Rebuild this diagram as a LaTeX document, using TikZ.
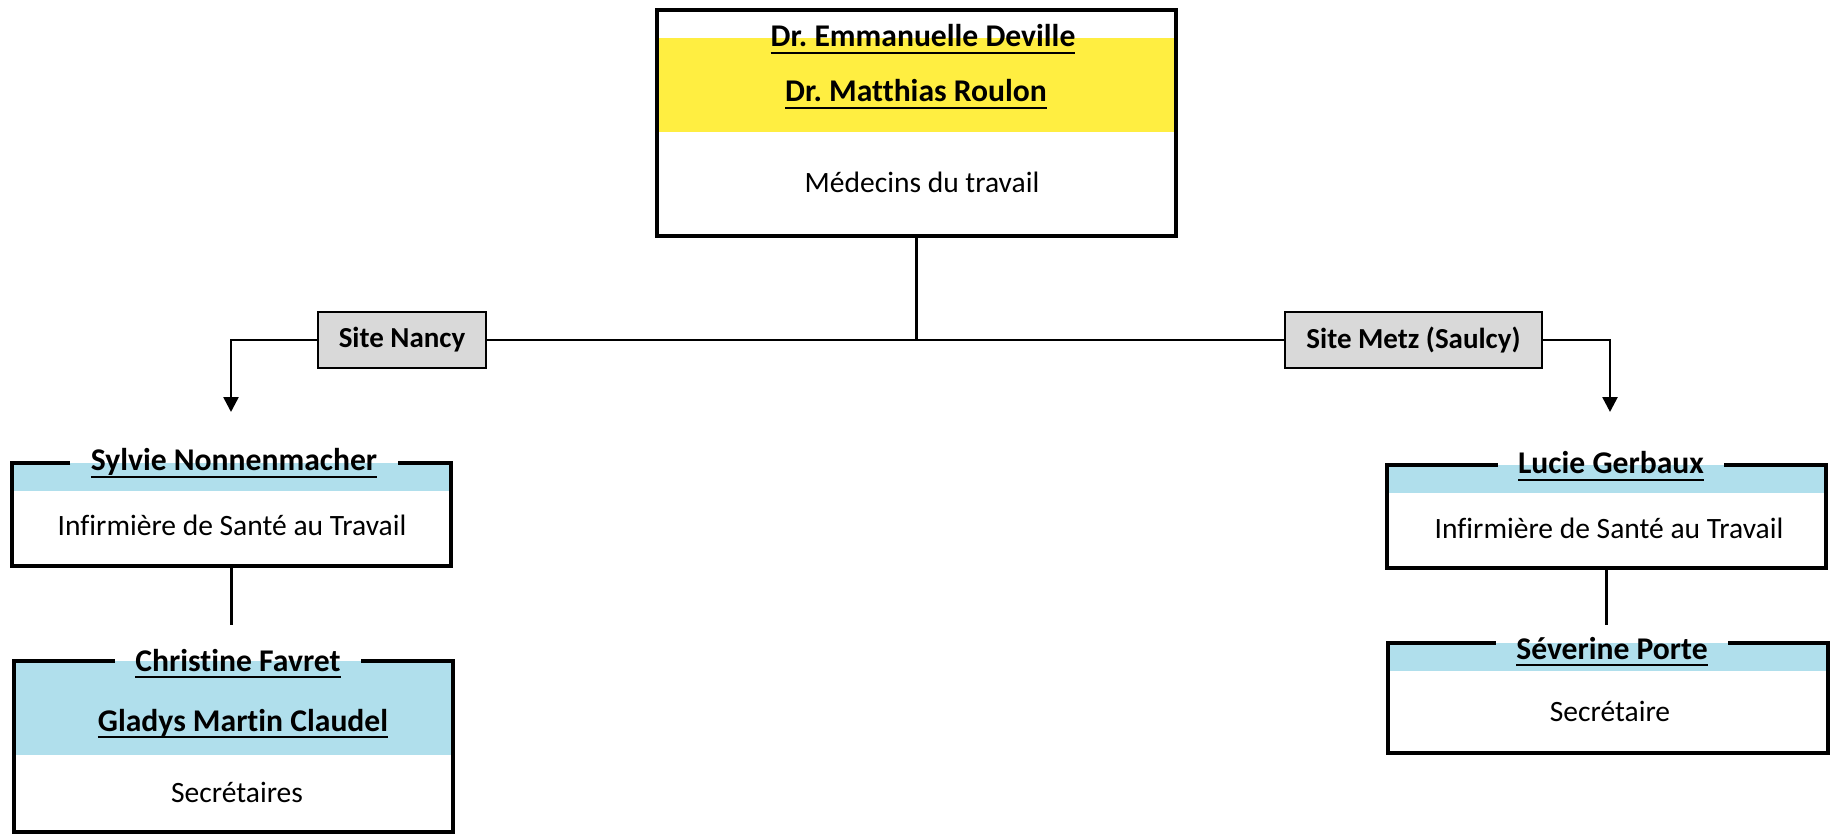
\documentclass[tikz,border=0pt]{standalone}
\usepackage{fontspec}
\setmainfont[Ligatures=NoCommon]{Carlito}
\usetikzlibrary{arrows.meta,calc}
\definecolor{bandyellow}{RGB}{255,238,65}
\definecolor{bandblue}{RGB}{176,223,236}
\definecolor{sitegray}{RGB}{217,217,217}
\newcommand\chartfont{\fontsize{16.8}{20}\selectfont}
\newcommand\namefont{\fontsize{18}{21}\selectfont\bfseries}
\newcommand\nameul[1]{\setbox0\hbox{#1}\rlap{\rule[-4pt]{\wd0}{1.1pt}}\box0}
\frenchspacing
\begin{document}
\begin{tikzpicture}[x=0.02cm,y=-0.02cm,
  box/.style={minimum width=8.78cm,inner sep=0,outer sep=0},
  boxline/.style={line width=2.3pt,line join=miter},
  link/.style={line width=1.5pt},
  arrowdown/.style={-{Triangle[width=0.3cm,length=0.3cm]}},
  site/.style={draw,fill=sitegray,line width=1.1pt,font=\fontsize{16.5}{20}\selectfont\bfseries,inner sep=0,outer sep=0,minimum height=1.12cm},
  who/.style={font=\namefont,anchor=base,inner xsep=0.4cm,inner ysep=0},
  role/.style={font=\chartfont,anchor=base,inner sep=0}]
  \useasboundingbox (0,0) rectangle (1832,837);
  \node[box,minimum width=10.38cm,minimum height=4.52cm] (med) at (916.5,123) {};
  \node[box,minimum height=2.06cm] (sylvie) at (231.5,514.5) {};
  \node[box,minimum height=3.42cm] (christine) at (233.5,746.5) {};
  \node[box,minimum height=2.06cm] (lucie) at (1606.5,516.5) {};
  \node[box,minimum width=8.8cm,minimum height=2.2cm] (severine) at (1608,698) {};
  \fill[bandyellow] ($(med.north west)+(0,28)$) rectangle ($(med.north east)+(0,122)$);
  \fill[bandblue] (sylvie.north west) rectangle ($(sylvie.north east)+(0,28)$);
  \fill[bandblue] (christine.north west) rectangle ($(christine.north east)+(0,94)$);
  \fill[bandblue] (lucie.north west) rectangle ($(lucie.north east)+(0,28)$);
  \fill[bandblue] (severine.north west) rectangle ($(severine.north east)+(0,28)$);
  \node[who] (med-n) at (923,47) {\nameul{Dr. Emmanuelle Deville}};
  \node[who] (med-m) at (916,102) {\nameul{Dr. Matthias Roulon}};
  \node[role] (med-r) at (922,193) {Médecins du travail};
  \node[who] (sylvie-n) at (234,471) {\nameul{Sylvie Nonnenmacher}};
  \node[role] (sylvie-r) at (232,536) {Infirmière de Santé au Travail};
  \node[who] (christine-n) at (238,671) {\nameul{Christine Favret}};
  \node[who] (christine-m) at (243,731) {\nameul{Gladys Martin Claudel}};
  \node[role] (christine-r) at (237,802) {Secrétaires};
  \node[who] (lucie-n) at (1611,474) {\nameul{Lucie Gerbaux}};
  \node[role] (lucie-r) at (1609,539) {Infirmière de Santé au Travail};
  \node[who] (severine-n) at (1612,659) {\nameul{Séverine Porte}};
  \node[role] (severine-r) at (1610,721) {Secrétaire};
  \draw[boxline] (med.north west) rectangle (med.south east);
  \foreach \b in {sylvie,christine,lucie,severine}
    \draw[boxline] (\b-n.west |- \b.north) -- (\b.north west) -- (\b.south west)
      -- (\b.south east) -- (\b.north east) -- (\b-n.east |- \b.north);
  \node[site,minimum width=3.36cm] (nancy) at (402,340) {Site Nancy};
  \node[site,minimum width=5.14cm] (metz) at (1413.5,340) {Site Metz (Saulcy)};
  \coordinate (nancyin) at (231,412);
  \coordinate (metzin) at (1610,412);
  \coordinate (sylvieout) at (231.5,625);
  \coordinate (lucieout) at (1606.5,625);
  \draw[link] (med.south) -- (med.south |- nancy.east);
  \draw[link] (nancy.east) -- (metz.west);
  \draw[link,arrowdown] (nancy.west) -| (nancyin);
  \draw[link,arrowdown] (metz.east) -| (metzin);
  \draw[link] (sylvie.south) -- (sylvieout);
  \draw[link] (lucie.south) -- (lucieout);
\end{tikzpicture}
\end{document}
